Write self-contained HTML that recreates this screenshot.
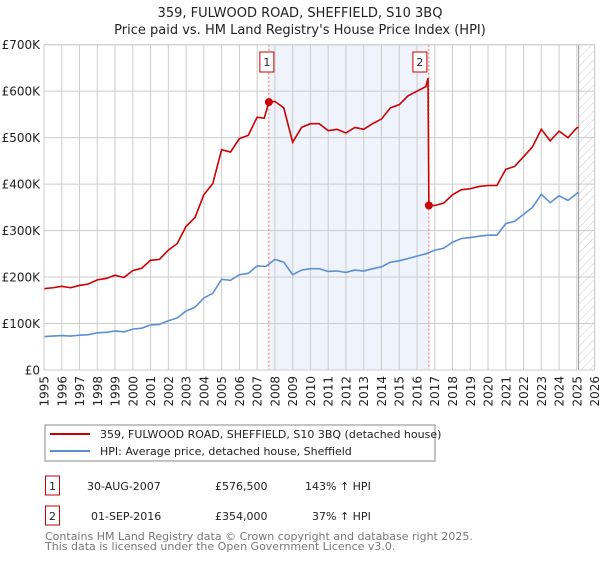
<!DOCTYPE html>
<html><head><meta charset="utf-8"><style>
body{margin:0;background:#fff;font-family:"Liberation Sans","DejaVu Sans",sans-serif;}
svg text{font-family:"DejaVu Sans","Liberation Sans",sans-serif;}
</style></head><body>
<svg id="c" width="600" height="560" viewBox="0 0 600 560" xmlns="http://www.w3.org/2000/svg">
<defs><pattern id="hatch" width="6" height="6" patternUnits="userSpaceOnUse" patternTransform="rotate(45)"><line x1="0" y1="0" x2="0" y2="6" stroke="#ccc" stroke-width="1"/></pattern></defs>
<text x="300" y="17" text-anchor="middle" font-size="13" fill="#222">359, FULWOOD ROAD, SHEFFIELD, S10 3BQ</text>
<text x="300" y="34" text-anchor="middle" font-size="13" fill="#222">Price paid vs. HM Land Registry's House Price Index (HPI)</text>
<g id="plot"></g>
<rect x="45" y="425" width="390" height="36" fill="#fff" stroke="#888"/>
<line x1="50" y1="434" x2="90" y2="434" stroke="#cc0000" stroke-width="2"/>
<text x="100" y="438" font-size="11" fill="#222">359, FULWOOD ROAD, SHEFFIELD, S10 3BQ (detached house)</text>
<line x1="50" y1="451" x2="90" y2="451" stroke="#5b8fd4" stroke-width="2"/>
<text x="100" y="455" font-size="11" fill="#222">HPI: Average price, detached house, Sheffield</text>
<rect x="45.5" y="476" width="14" height="19" fill="#fff" stroke="#cc0000"/>
<text x="52.5" y="490" text-anchor="middle" font-size="11" fill="#222">1</text>
<text x="87" y="490" font-size="11" fill="#222">30-AUG-2007</text>
<text x="215" y="490" font-size="11" fill="#222">£576,500</text>
<text x="305" y="490" font-size="11" fill="#222">143% ↑ HPI</text>
<rect x="45.5" y="506" width="14" height="19" fill="#fff" stroke="#cc0000"/>
<text x="52.5" y="520" text-anchor="middle" font-size="11" fill="#222">2</text>
<text x="91" y="520" font-size="11" fill="#222">01-SEP-2016</text>
<text x="215" y="520" font-size="11" fill="#222">£354,000</text>
<text x="312" y="520" font-size="11" fill="#222">37% ↑ HPI</text>
<text x="45" y="540" font-size="11" fill="#777">Contains HM Land Registry data © Crown copyright and database right 2025.</text>
<text x="45" y="550" font-size="11" fill="#777">This data is licensed under the Open Government Licence v3.0.</text>
</svg>
<script>
const yTicks=[0,100,200,300,400,500,600,700];
const yTickLabels=["£0","£100K","£200K","£300K","£400K","£500K","£600K","£700K"];
const xTicks=[1995,1996,1997,1998,1999,2000,2001,2002,2003,2004,2005,2006,2007,2008,2009,2010,2011,2012,2013,2014,2015,2016,2017,2018,2019,2020,2021,2022,2023,2024,2025,2026];
const hpiT=[1995,1995.5,1996,1996.5,1997,1997.5,1998,1998.5,1999,1999.5,2000,2000.5,2001,2001.5,2002,2002.5,2003,2003.5,2004,2004.5,2005,2005.5,2006,2006.5,2007,2007.5,2008,2008.5,2009,2009.5,2010,2010.5,2011,2011.5,2012,2012.5,2013,2013.5,2014,2014.5,2015,2015.5,2016,2016.5,2017,2017.5,2018,2018.5,2019,2019.5,2020,2020.5,2021,2021.5,2022,2022.5,2023,2023.5,2024,2024.5,2025,2025.1];
const hpiV=[72,73,74,73,75,76,80,81,84,82,88,90,97,98,106,112,127,135,155,165,195,193,205,208,224,223,238,232,205,215,218,218,212,213,210,215,213,218,222,232,235,240,245,250,258,262,275,283,285,288,290,290,315,320,335,350,378,360,375,365,380,382];
const propT=[1995,1995.5,1996,1996.5,1997,1997.5,1998,1998.5,1999,1999.5,2000,2000.5,2001,2001.5,2002,2002.5,2003,2003.5,2004,2004.5,2005,2005.5,2006,2006.5,2007,2007.4,2007.66,2008,2008.5,2009,2009.5,2010,2010.5,2011,2011.5,2012,2012.5,2013,2013.5,2014,2014.5,2015,2015.5,2016,2016.5,2016.62,2016.67,2017,2017.5,2018,2018.5,2019,2019.5,2020,2020.5,2021,2021.5,2022,2022.5,2023,2023.5,2024,2024.5,2025,2025.1];
const propV=[175,177,180,177,182,185,194,197,204,199,214,219,236,238,258,272,309,328,377,401,474,469,498,505,544,542,576.5,578,564,490,522,530,530,515,518,510,522,518,530,540,564,571,590,600,610,628,354,354,359,377,388,390,395,397,397,432,438,459,480,518,493,514,500,521,522];
const saleT=[2007.66,2016.67];
const saleV=[576.5,354];
const saleLabels=["1","2"];

const NS="http://www.w3.org/2000/svg";
const X0=44,X1=594.6,Y0=370,Y1=44.7;
const x=t=>X0+(t-1995)/(2026-1995)*(X1-X0);
const y=v=>Y0-v/700*(Y0-Y1);
const g=document.getElementById('plot');
function mk(tag,attrs){const e=document.createElementNS(NS,tag);for(const k in attrs)e.setAttribute(k,attrs[k]);g.appendChild(e);return e;}

let e=mk('rect',{x:x(saleT[0]),y:Y1,width:x(saleT[1])-x(saleT[0]),height:Y0-Y1,fill:'#eef3fc'});


e=mk('rect',{x:x(2025.1),y:Y1,width:X1-x(2025.1),height:Y0-Y1,fill:'url(#hatch)'});


xTicks.forEach(t=>{
  let l=mk('line',{x1:x(t),x2:x(t),y1:Y1,y2:Y0,stroke:'#ccc','stroke-width':1});
  
  
  let tx=mk('text',{x:0,y:0,'font-size':12,fill:'#222','text-anchor':'end',transform:`translate(${x(t)+4.5},${Y0+6}) rotate(-90)`});
  tx.textContent=t;
  
  
});
yTicks.forEach((v,i)=>{
  let l=mk('line',{x1:X0,x2:X1,y1:y(v),y2:y(v),stroke:'#ccc','stroke-width':1});
  
  
  let tx=mk('text',{x:X0-4,y:y(v)+4.5,'font-size':12,fill:'#222','text-anchor':'end'});
  tx.textContent=yTickLabels[i];
  
  
});
e=mk('line',{x1:x(2025.1),x2:x(2025.1),y1:Y1,y2:Y0,stroke:'#999','stroke-width':1});


saleT.forEach((t,i)=>{
  let l=mk('line',{x1:x(t),x2:x(t),y1:Y1,y2:Y0,stroke:'#f07070','stroke-width':1,'stroke-dasharray':'2,2'});
  
  
});
let p=mk('polyline',{points:hpiT.map((t,i)=>x(t)+','+y(hpiV[i])).join(' '),fill:'none',stroke:'#5b8fd4','stroke-width':1.6});


p=mk('polyline',{points:propT.map((t,i)=>x(t)+','+y(propV[i])).join(' '),fill:'none',stroke:'#cc0000','stroke-width':1.6});


saleT.forEach((t,i)=>{
  let c=mk('circle',{cx:x(t),cy:y(saleV[i]),r:4,fill:'#cc0000'});
  
  
  let bx=x(t)-(i==0?2:9);
  let r=mk('rect',{x:bx-7,y:52,width:14,height:20,fill:'#fff',stroke:'#cc0000'});
  
  
  let tx=mk('text',{x:bx,y:66,'font-size':11,fill:'#222','text-anchor':'middle'});
  tx.textContent=saleLabels[i];
  
  
});
e=mk('rect',{x:X0,y:Y1,width:X1-X0,height:Y0-Y1,fill:'none',stroke:'#ccc'});


</script>
</body></html>
